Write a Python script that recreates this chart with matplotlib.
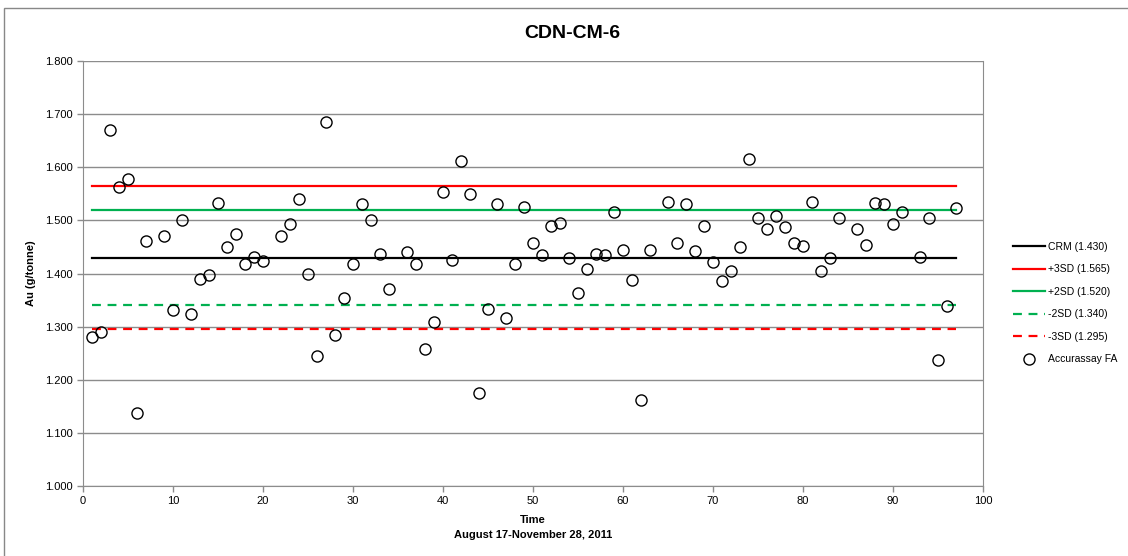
import matplotlib.pyplot as plt
from matplotlib.patches import Rectangle

plt.rcParams['font.family'] = ['Liberation Sans Narrow', 'Liberation Sans', 'DejaVu Sans']

# sample number (time order) and assay results
sample_no = [1, 2, 3, 4, 5, 6, 7, 9, 10, 11, 12, 13, 14, 15, 16, 17, 18, 19, 20,
             22, 23, 24, 25, 26, 27, 28, 29, 30, 31, 32, 33, 34, 36, 37, 38, 39,
             40, 41, 42, 43, 44, 45, 46, 47, 48, 49, 50, 51, 52, 53, 54, 55, 56,
             57, 58, 59, 60, 61, 62, 63, 65, 66, 67, 68, 69, 70, 71, 72, 73, 74,
             75, 76, 77, 78, 79, 80, 81, 82, 83, 84, 86, 87, 88, 89, 90, 91, 93,
             94, 95, 96, 97]
au_values = [1.280, 1.290, 1.671, 1.562, 1.578, 1.137, 1.461, 1.471, 1.332, 1.501,
             1.324, 1.390, 1.397, 1.533, 1.450, 1.474, 1.418, 1.431, 1.423,
             1.470, 1.493, 1.541, 1.399, 1.245, 1.686, 1.284, 1.353, 1.418, 1.530,
             1.501, 1.437, 1.370, 1.440, 1.418, 1.257, 1.308, 1.553, 1.425, 1.611,
             1.550, 1.176, 1.334, 1.530, 1.317, 1.418, 1.525, 1.457, 1.435, 1.489,
             1.496, 1.429, 1.363, 1.408, 1.437, 1.435, 1.516, 1.444, 1.387, 1.162,
             1.444, 1.535, 1.457, 1.531, 1.442, 1.489, 1.422, 1.386, 1.405, 1.450,
             1.616, 1.505, 1.484, 1.509, 1.488, 1.458, 1.452, 1.535, 1.404, 1.429,
             1.505, 1.484, 1.454, 1.533, 1.530, 1.493, 1.515, 1.432, 1.505, 1.237,
             1.338, 1.523]

# reference lines
line_names = ['CRM (1.430)', '+3SD (1.565)', '+2SD (1.520)', '-2SD (1.340)', '-3SD (1.295)']
line_values = [1.430, 1.565, 1.520, 1.340, 1.295]
line_colors = ['#000000', '#FF0000', '#00B050', '#00B050', '#FF0000']
line_styles = ['-', '-', '-', (0, (4, 3)), (0, (4, 3))]

fig = plt.figure(figsize=(11.28, 5.56), dpi=100)
ax = fig.add_axes([83 / 1128, 70 / 556, 900 / 1128, 425 / 556])

# chart outer border
fig.patches.append(Rectangle((4 / 1128, -0.1), 1.2, (556 - 8) / 556 + 0.1,
                             transform=fig.transFigure, fill=False,
                             edgecolor='#888888', linewidth=1))

for name, val, col, ls in zip(line_names, line_values, line_colors, line_styles):
    ax.plot([sample_no[0], sample_no[-1]], [val, val], color=col, linestyle=ls,
            linewidth=1.6, label=name, zorder=3)

ax.plot(sample_no, au_values, linestyle='none', marker='o', markersize=8,
        markerfacecolor='none', markeredgecolor='black', markeredgewidth=1,
        label='Accurassay FA', zorder=4)

ax.set_xlim(0, 100)
ax.set_ylim(1.0, 1.8)
ax.set_xticks(range(0, 101, 10))
ax.set_yticks([1.0 + 0.1 * i for i in range(9)])
ax.set_yticklabels(['%.3f' % (1.0 + 0.1 * i) for i in range(9)])
ax.yaxis.grid(True, color='#8c8c8c', linewidth=1)
ax.set_axisbelow(True)
for s in ax.spines.values():
    s.set_color('#8c8c8c')
ax.spines['top'].set_visible(False)
ax.tick_params(colors='#8c8c8c', labelcolor='black', labelsize=8, length=4, width=1)

fig.text(572 / 1128, 1 - 33 / 556, 'CDN-CM-6', fontsize=14, fontweight='bold',
         ha='center', va='center')
ax.set_ylabel('Au (g/tonne)', fontsize=8, fontweight='bold', labelpad=6)
ax.set_xlabel('Time\nAugust 17-November 28, 2011', fontsize=8, fontweight='bold',
              labelpad=6, linespacing=1.6)

fig.legend(loc='center left', bbox_to_anchor=(1004 / 1128, 1 - 303 / 556),
           frameon=False, fontsize=7.5, handlelength=3.0, handletextpad=0.3,
           labelspacing=1.2)

fig.savefig('out.png', dpi=100)
